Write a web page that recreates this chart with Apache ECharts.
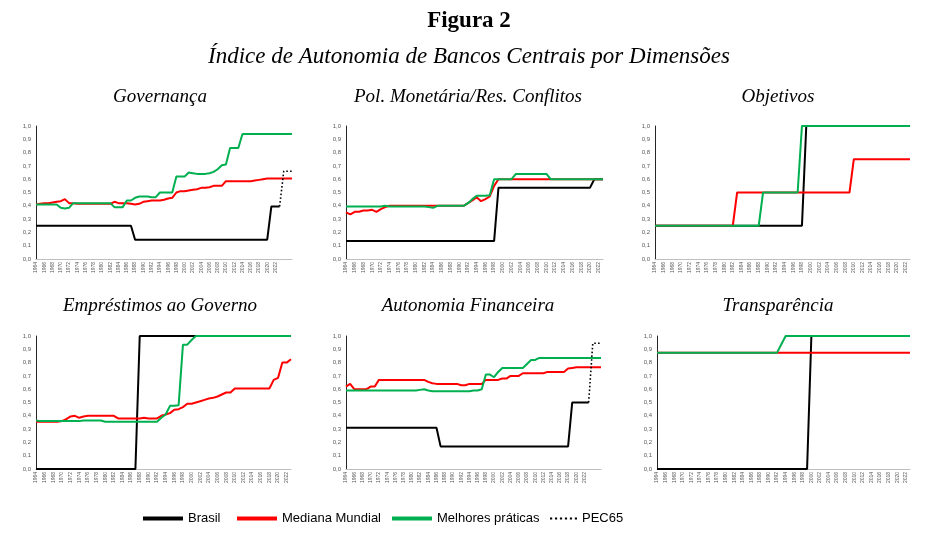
<!DOCTYPE html>
<html><head><meta charset="utf-8">
<script src="https://cdn.jsdelivr.net/npm/echarts@6/dist/echarts.min.js"></script>
<style>html,body{margin:0;padding:0;background:#fff}#c{width:926px;height:534px}</style>
</head><body><div id="c"></div>
<script>
// ---------- categories ----------
const yearsLong = ['1964','1965','1966','1967','1968','1969',
 '1970','1971','1972','1973','1974','1975','1976','1977','1978','1979',
 '1980','1981','1982','1983','1984','1985','1986','1987','1988','1989',
 '1990','1991','1992','1993','1994','1995','1996','1997','1998','1999',
 '2000','2001','2002','2003','2004','2005','2006','2007','2008','2009',
 '2010','2011','2012','2013','2014','2015','2016','2017','2018','2019',
 '2020','2021','2022','2023','2024','2025','2026'];
const yearsShort = ['1964','1965','1966','1967','1968','1969',
 '1970','1971','1972','1973','1974','1975','1976','1977','1978','1979',
 '1980','1981','1982','1983','1984','1985','1986','1987','1988','1989',
 '1990','1991','1992','1993','1994','1995','1996','1997','1998','1999',
 '2000','2001','2002','2003','2004','2005','2006','2007','2008','2009',
 '2010','2011','2012','2013','2014','2015','2016','2017','2018','2019',
 '2020','2021','2022','2023'];
const lastTickLabel = 2022;

// ---------- Governança ----------
const govBrasil = [0.25,0.25,0.25,0.25,0.25,0.25,
 0.25,0.25,0.25,0.25,0.25,0.25,0.25,0.25,0.25,0.25,
 0.25,0.25,0.25,0.25,0.25,0.25,0.25,0.25,0.145,0.145,
 0.145,0.145,0.145,0.145,0.145,0.145,0.145,0.145,0.145,0.145,
 0.145,0.145,0.145,0.145,0.145,0.145,0.145,0.145,0.145,0.145,
 0.145,0.145,0.145,0.145,0.145,0.145,0.145,0.145,0.145,0.145,
 0.145,0.395,0.395,0.395,null,null,null];
const govMediana = [0.41,0.415,0.42,0.42,0.425,0.43,
 0.435,0.45,0.42,0.42,0.415,0.415,0.415,0.415,0.415,0.415,
 0.415,0.415,0.415,0.43,0.42,0.42,0.42,0.415,0.41,0.415,
 0.43,0.435,0.44,0.44,0.44,0.445,0.455,0.46,0.5,0.51,
 0.51,0.515,0.52,0.525,0.535,0.535,0.54,0.55,0.55,0.55,
 0.585,0.585,0.585,0.585,0.585,0.585,0.585,0.59,0.595,0.6,
 0.605,0.605,0.605,0.605,0.605,0.605,0.605];
const govMelhores = [0.41,0.41,0.41,0.41,0.41,0.41,
 0.385,0.38,0.385,0.42,0.42,0.42,0.42,0.42,0.42,0.42,
 0.42,0.42,0.42,0.39,0.39,0.39,0.44,0.44,0.46,0.47,
 0.47,0.47,0.465,0.465,0.5,0.5,0.5,0.5,0.62,0.62,
 0.62,0.65,0.645,0.64,0.64,0.64,0.645,0.655,0.675,0.705,
 0.71,0.835,0.835,0.835,0.94,0.94,0.94,0.94,0.94,0.94,
 0.94,0.94,0.94,0.94,0.94,0.94,0.94];
const govPec = [null,null,null,null,null,null,
 null,null,null,null,null,null,null,null,null,null,
 null,null,null,null,null,null,null,null,null,null,
 null,null,null,null,null,null,null,null,null,null,
 null,null,null,null,null,null,null,null,null,null,
 null,null,null,null,null,null,null,null,null,null,
 null,null,null,0.395,0.66,0.66,0.66];

// ---------- Pol. Monetária/Res. Conflitos ----------
const polBrasil = [0.135,0.135,0.135,0.135,0.135,0.135,
 0.135,0.135,0.135,0.135,0.135,0.135,0.135,0.135,0.135,0.135,
 0.135,0.135,0.135,0.135,0.135,0.135,0.135,0.135,0.135,0.135,
 0.135,0.135,0.135,0.135,0.135,0.135,0.135,0.135,0.135,0.535,
 0.535,0.535,0.535,0.535,0.535,0.535,0.535,0.535,0.535,0.535,
 0.535,0.535,0.535,0.535,0.535,0.535,0.535,0.535,0.535,0.535,
 0.535,0.6,0.6,0.6];
const polMediana = [0.35,0.335,0.355,0.355,0.365,0.365,
 0.37,0.355,0.375,0.39,0.4,0.4,0.4,0.4,0.4,0.4,
 0.4,0.4,0.4,0.4,0.4,0.4,0.4,0.4,0.4,0.4,
 0.4,0.4,0.42,0.44,0.465,0.435,0.45,0.47,0.55,0.6,
 0.6,0.6,0.6,0.6,0.6,0.6,0.6,0.6,0.6,0.6,
 0.6,0.6,0.6,0.6,0.6,0.6,0.6,0.6,0.6,0.6,
 0.6,0.6,0.6,0.6];
const polMelhores = [0.395,0.395,0.395,0.395,0.395,0.395,
 0.395,0.395,0.395,0.4,0.395,0.395,0.395,0.395,0.395,0.395,
 0.395,0.395,0.395,0.39,0.385,0.4,0.4,0.4,0.4,0.4,
 0.4,0.4,0.42,0.45,0.475,0.475,0.475,0.48,0.6,0.6,
 0.6,0.6,0.6,0.64,0.64,0.64,0.64,0.64,0.64,0.64,
 0.64,0.6,0.6,0.6,0.6,0.6,0.6,0.6,0.6,0.6,
 0.6,0.6,0.6,0.6];

// ---------- Objetivos ----------
const objBrasil = [0.25,0.25,0.25,0.25,0.25,0.25,
 0.25,0.25,0.25,0.25,0.25,0.25,0.25,0.25,0.25,0.25,
 0.25,0.25,0.25,0.25,0.25,0.25,0.25,0.25,0.25,0.25,
 0.25,0.25,0.25,0.25,0.25,0.25,0.25,0.25,0.25,1,
 1,1,1,1,1,1,1,1,1,1,
 1,1,1,1,1,1,1,1,1,1,
 1,1,1,1];
const objMediana = [0.25,0.25,0.25,0.25,0.25,0.25,
 0.25,0.25,0.25,0.25,0.25,0.25,0.25,0.25,0.25,0.25,
 0.25,0.25,0.25,0.5,0.5,0.5,0.5,0.5,0.5,0.5,
 0.5,0.5,0.5,0.5,0.5,0.5,0.5,0.5,0.5,0.5,
 0.5,0.5,0.5,0.5,0.5,0.5,0.5,0.5,0.5,0.5,
 0.75,0.75,0.75,0.75,0.75,0.75,0.75,0.75,0.75,0.75,
 0.75,0.75,0.75,0.75];
const objMelhores = [0.25,0.25,0.25,0.25,0.25,0.25,
 0.25,0.25,0.25,0.25,0.25,0.25,0.25,0.25,0.25,0.25,
 0.25,0.25,0.25,0.25,0.25,0.25,0.25,0.25,0.25,0.5,
 0.5,0.5,0.5,0.5,0.5,0.5,0.5,0.5,1,1,
 1,1,1,1,1,1,1,1,1,1,
 1,1,1,1,1,1,1,1,1,1,
 1,1,1,1];

// ---------- Empréstimos ao Governo ----------
const empBrasil = [0,0,0,0,0,0,
 0,0,0,0,0,0,0,0,0,0,
 0,0,0,0,0,0,0,0,1,1,
 1,1,1,1,1,1,1,1,1,1,
 1,1,1,1,1,1,1,1,1,1,
 1,1,1,1,1,1,1,1,1,1,
 1,1,1,1];
const empMediana = [0.355,0.355,0.355,0.355,0.355,0.355,
 0.36,0.375,0.395,0.4,0.385,0.395,0.4,0.4,0.4,0.4,
 0.4,0.4,0.4,0.38,0.38,0.38,0.38,0.38,0.38,0.385,
 0.38,0.38,0.38,0.4,0.41,0.42,0.445,0.45,0.465,0.49,
 0.49,0.5,0.51,0.52,0.53,0.535,0.545,0.56,0.575,0.575,
 0.605,0.605,0.605,0.605,0.605,0.605,0.605,0.605,0.605,0.67,
 0.685,0.8,0.8,0.825];
const empMelhores = [0.365,0.36,0.36,0.36,0.36,0.36,
 0.36,0.36,0.36,0.36,0.36,0.365,0.365,0.365,0.365,0.365,
 0.355,0.355,0.355,0.355,0.355,0.355,0.355,0.355,0.355,0.355,
 0.355,0.355,0.355,0.385,0.41,0.475,0.475,0.48,0.935,0.935,
 0.97,1,1,1,1,1,1,1,1,1,
 1,1,1,1,1,1,1,1,1,1,
 1,1,1,1];

// ---------- Autonomia Financeira ----------
const finBrasil = [0.31,0.31,0.31,0.31,0.31,0.31,
 0.31,0.31,0.31,0.31,0.31,0.31,0.31,0.31,0.31,0.31,
 0.31,0.31,0.31,0.31,0.31,0.31,0.31,0.17,0.17,0.17,
 0.17,0.17,0.17,0.17,0.17,0.17,0.17,0.17,0.17,0.17,
 0.17,0.17,0.17,0.17,0.17,0.17,0.17,0.17,0.17,0.17,
 0.17,0.17,0.17,0.17,0.17,0.17,0.17,0.17,0.17,0.5,
 0.5,0.5,0.5,0.5,null,null,null];
const finMediana = [0.62,0.64,0.6,0.6,0.6,0.6,
 0.62,0.62,0.67,0.67,0.67,0.67,0.67,0.67,0.67,0.67,
 0.67,0.67,0.67,0.67,0.655,0.645,0.64,0.64,0.64,0.64,
 0.64,0.64,0.63,0.63,0.64,0.64,0.64,0.64,0.67,0.67,
 0.67,0.67,0.68,0.68,0.7,0.7,0.7,0.72,0.72,0.72,
 0.72,0.72,0.72,0.73,0.73,0.73,0.73,0.73,0.755,0.76,
 0.765,0.765,0.765,0.765,0.765,0.765,0.765];
const finMelhores = [0.59,0.59,0.59,0.59,0.59,0.59,
 0.59,0.59,0.59,0.59,0.59,0.59,0.59,0.59,0.59,0.59,
 0.59,0.59,0.595,0.6,0.59,0.585,0.585,0.585,0.585,0.585,
 0.585,0.585,0.585,0.585,0.585,0.59,0.59,0.6,0.71,0.71,
 0.69,0.73,0.76,0.76,0.76,0.76,0.76,0.76,0.79,0.82,
 0.82,0.835,0.835,0.835,0.835,0.835,0.835,0.835,0.835,0.835,
 0.835,0.835,0.835,0.835,0.835,0.835,0.835];
const finPec = [null,null,null,null,null,null,
 null,null,null,null,null,null,null,null,null,null,
 null,null,null,null,null,null,null,null,null,null,
 null,null,null,null,null,null,null,null,null,null,
 null,null,null,null,null,null,null,null,null,null,
 null,null,null,null,null,null,null,null,null,null,
 null,null,null,0.5,0.945,0.945,0.945];

// ---------- Transparência ----------
const traBrasil = [0,0,0,0,0,0,
 0,0,0,0,0,0,0,0,0,0,
 0,0,0,0,0,0,0,0,0,0,
 0,0,0,0,0,0,0,0,0,0,
 1,1,1,1,1,1,1,1,1,1,
 1,1,1,1,1,1,1,1,1,1,
 1,1,1,1];
const traMediana = [0.875,0.875,0.875,0.875,0.875,0.875,
 0.875,0.875,0.875,0.875,0.875,0.875,0.875,0.875,0.875,0.875,
 0.875,0.875,0.875,0.875,0.875,0.875,0.875,0.875,0.875,0.875,
 0.875,0.875,0.875,0.875,0.875,0.875,0.875,0.875,0.875,0.875,
 0.875,0.875,0.875,0.875,0.875,0.875,0.875,0.875,0.875,0.875,
 0.875,0.875,0.875,0.875,0.875,0.875,0.875,0.875,0.875,0.875,
 0.875,0.875,0.875,0.875];
const traMelhores = [0.875,0.875,0.875,0.875,0.875,0.875,
 0.875,0.875,0.875,0.875,0.875,0.875,0.875,0.875,0.875,0.875,
 0.875,0.875,0.875,0.875,0.875,0.875,0.875,0.875,0.875,0.875,
 0.875,0.875,0.875,0.9375,1,1,1,1,1,1,
 1,1,1,1,1,1,1,1,1,1,
 1,1,1,1,1,1,1,1,1,1,
 1,1,1,1];

const seriesNames = ['Brasil','Mediana Mundial','Melhores práticas','PEC65'];
const panelTitles = ['Governança','Pol. Monetária/Res. Conflitos','Objetivos',
  'Empréstimos ao Governo','Autonomia Financeira','Transparência'];
const figTitle = 'Figura 2';
const figSubtitle = 'Índice de Autonomia de Bancos Centrais por Dimensões';

// ---------- layout ----------
const panels = [
 {years: yearsLong,  d:[govBrasil, govMediana, govMelhores], pec: govPec, grid:{left:36, top:126, width:256, height:133}, cx:160, cy:97},
 {years: yearsShort, d:[polBrasil, polMediana, polMelhores], pec: null,   grid:{left:346,top:126, width:257, height:133}, cx:468, cy:97},
 {years: yearsShort, d:[objBrasil, objMediana, objMelhores], pec: null,   grid:{left:655,top:126, width:255, height:133}, cx:778, cy:97},
 {years: yearsShort, d:[empBrasil, empMediana, empMelhores], pec: null,   grid:{left:36, top:336, width:255, height:133}, cx:160, cy:306},
 {years: yearsLong,  d:[finBrasil, finMediana, finMelhores], pec: finPec, grid:{left:346,top:336, width:255, height:133}, cx:468, cy:306},
 {years: yearsShort, d:[traBrasil, traMediana, traMelhores], pec: null,   grid:{left:657,top:336, width:253, height:133}, cx:778, cy:306}
];
const colors = ['#000000','#ff0000','#00b050'];

const grids = [], xAxes = [], yAxes = [], series = [], graphics = [];
graphics.push({type:'text', x:469, y:21, style:{text:figTitle, textAlign:'center', textVerticalAlign:'middle',
  font:'bold 23px "Liberation Serif"', fill:'#000'}});
graphics.push({type:'text', x:469, y:57, style:{text:figSubtitle, textAlign:'center', textVerticalAlign:'middle',
  font:'italic 23px "Liberation Serif"', fill:'#000'}});

panels.forEach((p, i) => {
  grids.push(Object.assign({containLabel:false}, p.grid));
  graphics.push({type:'text', x:p.cx, y:p.cy, style:{text:panelTitles[i], textAlign:'center', textVerticalAlign:'middle',
    font:'italic 19px "Liberation Serif"', fill:'#000'}});
  xAxes.push({type:'category', gridIndex:i, data:p.years, boundaryGap:false,
    axisLine:{show:true, lineStyle:{color:'#bfbfbf', width:1}}, axisTick:{show:false},
    axisLabel:{interval:1, rotate:90, fontSize:5, color:'#595959', margin:3, fontFamily:'Liberation Sans',
      formatter: v => (Number(v) <= lastTickLabel ? v : '')}});
  yAxes.push({type:'value', gridIndex:i, min:0, max:1, interval:0.1,
    splitLine:{show:false}, axisTick:{show:false},
    axisLine:{show:true, lineStyle:{color:'#262626', width:1}},
    axisLabel:{fontSize:6, color:'#595959', margin:5, fontFamily:'Liberation Sans',
      formatter: v => v.toFixed(1).replace('.', ',')}});
  p.d.forEach((arr, k) => {
    series.push({type:'line', name:seriesNames[k], xAxisIndex:i, yAxisIndex:i, data:arr,
      symbol:'none', color:colors[k], lineStyle:{color:colors[k], width:2}, z:2+k, silent:true});
  });
  if (p.pec) {
    series.push({type:'line', name:'PEC65', xAxisIndex:i, yAxisIndex:i, data:p.pec,
      symbol:'none', color:'#000', lineStyle:{color:'#000', width:1.6, type:[1.6,2.2]}, z:6, silent:true});
  }
});

const legendText = {fontFamily:'"Liberation Sans"', fontSize:13, color:'#000'};
const legendLefts = [143, 237, 392, 550];
const legends = seriesNames.map((nm, k) => {
  const base = {left:legendLefts[k], top:512, padding:0, selectedMode:false, data:[nm], textStyle:legendText};
  if (k < 3) return Object.assign(base, {itemWidth:40, itemHeight:4, icon:'rect'});
  return Object.assign(base, {itemWidth:27, itemHeight:2.4,
    icon:'path://M0 0h2.2v2.2h-2.2z M5 0h2.2v2.2h-2.2z M10 0h2.2v2.2h-2.2z M15 0h2.2v2.2h-2.2z M20 0h2.2v2.2h-2.2z M25 0h2.2v2.2h-2.2z'});
});

const option = {
  animation:false,
  backgroundColor:'#fff',
  grid:grids, xAxis:xAxes, yAxis:yAxes, series:series,
  graphic:graphics,
  legend:legends
};
const chart = echarts.init(document.getElementById('c'), null, {renderer:'canvas'});
chart.setOption(option);
</script></body></html>
